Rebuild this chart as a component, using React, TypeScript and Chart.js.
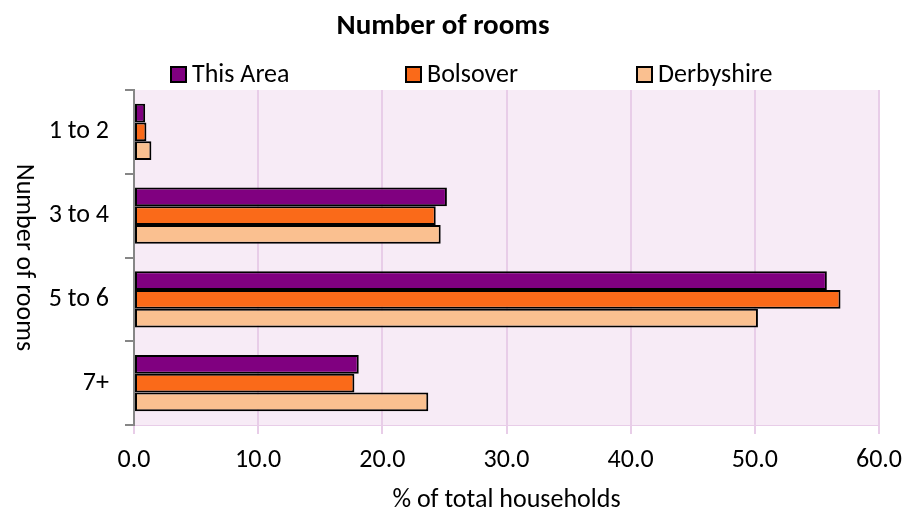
import React, { useEffect, useRef } from "react";
import { Chart, registerables } from "chart.js";

Chart.register(...registerables);

const categories = ["1 to 2", "3 to 4", "5 to 6", "7+"];
const seriesNames = ["This Area", "Bolsover", "Derbyshire"];
const thisArea = [0.9, 25.2, 55.8, 18.1];
const bolsover = [1.0, 24.3, 56.9, 17.75];
const derbyshire = [1.4, 24.7, 50.25, 23.7];
const xTicks = [0, 10, 20, 30, 40, 50, 60];

const colors = ["#800080", "#FA6A19", "#FAC090"];
const FONT = "Carlito, Lato, 'Liberation Sans', sans-serif";
const FS = 26;

const decorPlugin = {
  id: "decor",
  beforeDraw(chart: any) {
    const { ctx, chartArea } = chart;
    ctx.save();
    ctx.fillStyle = "#F7EBF6";
    ctx.fillRect(chartArea.left, chartArea.top, chartArea.right - chartArea.left, chartArea.bottom - chartArea.top);
    ctx.restore();
  },
  afterDraw(chart: any) {
    const { ctx, chartArea } = chart;
    ctx.save();
    // title
    ctx.fillStyle = "#000";
    ctx.font = `bold 29px ${FONT}`;
    ctx.textAlign = "center";
    ctx.textBaseline = "middle";
    ctx.fillText("Number of rooms", 443, 27);
    // legend
    const boxX = [171, 406, 637];
    ctx.font = `${FS}px ${FONT}`;
    ctx.textAlign = "left";
    chart.data.datasets.forEach((ds: any, i: number) => {
      ctx.fillStyle = ds.backgroundColor;
      ctx.fillRect(boxX[i], 67, 15, 15);
      ctx.strokeStyle = "#000";
      ctx.lineWidth = 2;
      ctx.strokeRect(boxX[i], 67, 15, 15);
      ctx.fillStyle = "#000";
      ctx.fillText(ds.label, boxX[i] + 21, 75);
    });
    // y title rotated clockwise
    ctx.translate(23, (chartArea.top + chartArea.bottom) / 2);
    ctx.rotate(Math.PI / 2);
    ctx.textAlign = "center";
    ctx.textBaseline = "middle";
    ctx.fillText("Number of rooms", 0, 0);
    ctx.restore();
  },
};

export default function App() {
  const ref = useRef<HTMLCanvasElement>(null);
  useEffect(() => {
    document.body.style.margin = "0";
    const chart = new Chart(ref.current!, {
      type: "bar",
      data: {
        labels: categories,
        datasets: [thisArea, bolsover, derbyshire].map((d, i) => ({
          label: seriesNames[i],
          data: d,
          backgroundColor: colors[i],
          borderColor: "#000",
          borderWidth: 2,
          borderSkipped: false,
          categoryPercentage: 0.67,
          barPercentage: 1.0,
        })),
      },
      options: {
        indexAxis: "y",
        responsive: false,
        animation: false,
        layout: { padding: { top: 90, left: 48, right: 26, bottom: 0 } },
        plugins: {
          legend: { display: false },
          title: { display: false },
          tooltip: { enabled: false },
        },
        scales: {
          x: {
            min: 0,
            max: 60,
            afterBuildTicks: (scale: any) => {
              scale.ticks = xTicks.map((v) => ({ value: v }));
            },
            afterFit: (scale: any) => {
              scale.height = 84;
              scale.paddingRight = 0;
              scale.paddingLeft = 0;
            },
            ticks: {
              callback: (v: any) => Number(v).toFixed(1),
              color: "#000",
              font: { size: FS, family: FONT },
              padding: 11,
              maxRotation: 0,
            },
            grid: { color: "#E8CDE8", lineWidth: 2, tickLength: 9 },
            border: { color: "#E8CDE8", width: 1 },
            title: {
              display: true,
              text: "% of total households",
              color: "#000",
              font: { size: FS, family: FONT },
              padding: { top: 0, bottom: -7 },
            },
          },
          y: {
            z: 1,
            afterFit: (scale: any) => {
              scale.width = 86;
            },
            ticks: {
              color: "#000",
              font: { size: FS, family: FONT },
              padding: 16,
            },
            grid: {
              offset: true,
              drawOnChartArea: false,
              color: "#868686",
              lineWidth: 2,
              tickLength: 9,
            },
            border: { color: "#868686", width: 2 },
          },
        },
      },
      plugins: [decorPlugin],
    });
    return () => chart.destroy();
  }, []);
  return (
    <div style={{ position: "absolute", left: 0, top: 0, width: 905, height: 509, background: "#fff" }}>
      <canvas ref={ref} width={905} height={509} />
    </div>
  );
}
